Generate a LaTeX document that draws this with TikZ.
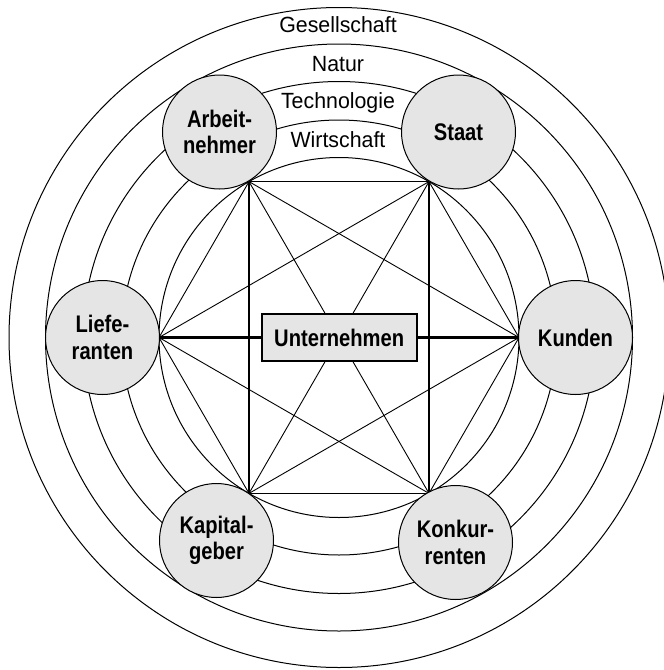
\documentclass[tikz,border=0pt]{standalone}
\usepackage{fontspec}
\setmainfont{Liberation Sans}
\newfontfamily\cnfont{Liberation Sans}[FakeStretch=0.84]
\newfontfamily\rgfont{Liberation Sans}[FakeStretch=0.97]
\begin{document}
\begin{tikzpicture}[x=1pt,y=-1pt,
  ring/.style={draw, line width=1pt},
  link/.style={line width=0.9pt},
  mainlink/.style={line width=2.2pt},
  sat/.style={circle, draw, line width=1pt, fill=gray!20, minimum size=114pt,
    inner sep=0pt, align=center,
    font=\cnfont\bfseries\fontsize{24}{26.3}\selectfont},
  core/.style={draw, line width=2pt, fill=gray!20, minimum width=155pt,
    minimum height=47.6pt, inner sep=0pt,
    font=\cnfont\bfseries\fontsize{24}{26.3}\selectfont},
  ringlabel/.style={font=\rgfont\fontsize{22}{24}\selectfont, anchor=base, inner sep=0pt}]
\clip (0,0) rectangle (664,670);
\coordinate (O) at (339,337.5);
% rings
\foreach \r in {180,217.5,256,293.5,330}{
  \draw[ring] (O) circle[radius=\r pt];
}
% ring labels
\node[ringlabel] (gs) at (338,32.3) {Gesellschaft};
\node[ringlabel] (na) at (338,71) {Natur};
\node[ringlabel] (te) at (338,108.5) {Technologie};
\node[ringlabel] (wi) at (338,147) {Wirtschaft};
% hexagon vertices
\coordinate (v0) at (519,337.5);
\coordinate (v1) at (429,181.6);
\coordinate (v2) at (249,181.6);
\coordinate (v3) at (159,337.5);
\coordinate (v4) at (249,493.4);
\coordinate (v5) at (429,493.4);
% thin links
\draw[link] (v0) -- (v1);
\draw[link] (v1) -- (v2);
\draw[link] (v2) -- (v3);
\draw[link] (v3) -- (v4);
\draw[link] (v4) -- (v5);
\draw[link] (v5) -- (v0);
\draw[link] (v0) -- (v2);
\draw[link] (v0) -- (v4);
\draw[link] (v1) -- (v3);
\draw[link] (v3) -- (v5);
\draw[link] (v1) -- (v4);
\draw[link] (v2) -- (v5);
% thick links
\draw[mainlink] (v0) -- (v3);
\draw[mainlink] (v2) -- (v4);
\draw[mainlink] (v1) -- (v5);
% centre
\node[core] (unt) at (339.2,337.5) {Unternehmen};
% satellites
\node[sat] (arb) at (219.5,132) {Arbeit-\\nehmer};
\node[sat] (sta) at (458.5,132) {Staat};
\node[sat] (lie) at (102.5,337.5) {Liefe-\\ranten};
\node[sat] (kun) at (575.5,337.5) {Kunden};
\node[sat] (kap) at (216.5,540.5) {Kapital-\\geber};
\node[sat] (kon) at (455.5,542.5) {Konkur-\\renten};
\end{tikzpicture}
\end{document}
